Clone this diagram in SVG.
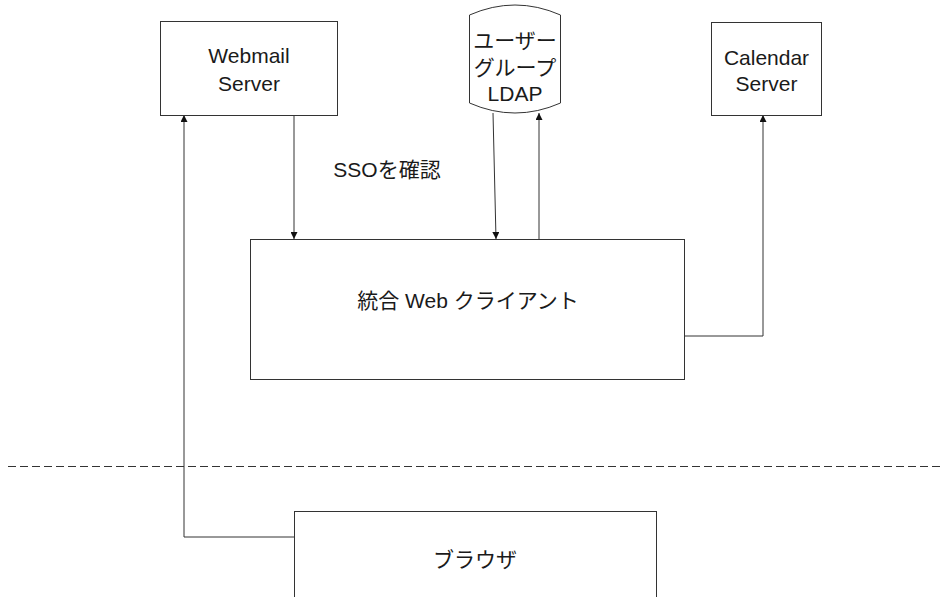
<svg xmlns="http://www.w3.org/2000/svg" width="941" height="597" viewBox="0 0 941 597">
<defs>
<style>
.box{fill:#fff;stroke:#333;stroke-width:1}
.ln{fill:none;stroke:#333;stroke-width:1}
.t{font-family:"Liberation Sans","Noto Sans CJK JP",sans-serif;font-size:21px;fill:#1a1a1a;text-anchor:middle}
</style>
<marker id="ah" viewBox="0 0 10 10" refX="10" refY="5" markerWidth="7" markerHeight="7" markerUnits="userSpaceOnUse" orient="auto">
<path d="M0,0 L10,5 L0,10 Z" fill="#111"/>
</marker>
</defs>
<rect width="941" height="597" fill="#fff"/>
<g id="connectors">
<path class="ln" d="M294,115 V239" marker-end="url(#ah)"/>
<path class="ln" d="M493,113 L496,239" marker-end="url(#ah)"/>
<path class="ln" d="M539,239 V113" marker-end="url(#ah)"/>
<path class="ln" d="M684,336 H763 V115" marker-end="url(#ah)"/>
<path class="ln" d="M294,537 H184 V115" marker-end="url(#ah)"/>
<line x1="8" y1="466.5" x2="941" y2="466.5" stroke="#333" stroke-width="1" stroke-dasharray="8,4"/>
<text class="t" x="387" y="177">SSOを確認</text>
</g>
<g id="webmail">
<rect class="box" x="160.5" y="21.5" width="177" height="94"/>
<text class="t" x="249" y="63">Webmail</text>
<text class="t" x="249" y="91">Server</text>
</g>
<g id="ldap">
<path class="box" d="M469.5,15 Q515,-5 560.5,15 L560.5,103 Q515,123 469.5,103 Z"/>
<text class="t" x="515" y="48">ユーザー</text>
<text class="t" x="515" y="75">グループ</text>
<text class="t" x="515" y="101">LDAP</text>
</g>
<g id="calendar">
<rect class="box" x="711.5" y="22.5" width="110" height="93"/>
<text class="t" x="766.5" y="65">Calendar</text>
<text class="t" x="766.5" y="91">Server</text>
</g>
<g id="client">
<rect class="box" x="250.5" y="239.5" width="434" height="140"/>
<text class="t" x="468" y="308">統合 Web クライアント</text>
</g>
<g id="browser">
<rect class="box" x="294.5" y="511.5" width="362" height="100"/>
<text class="t" x="475" y="567">ブラウザ</text>
</g>
</svg>
